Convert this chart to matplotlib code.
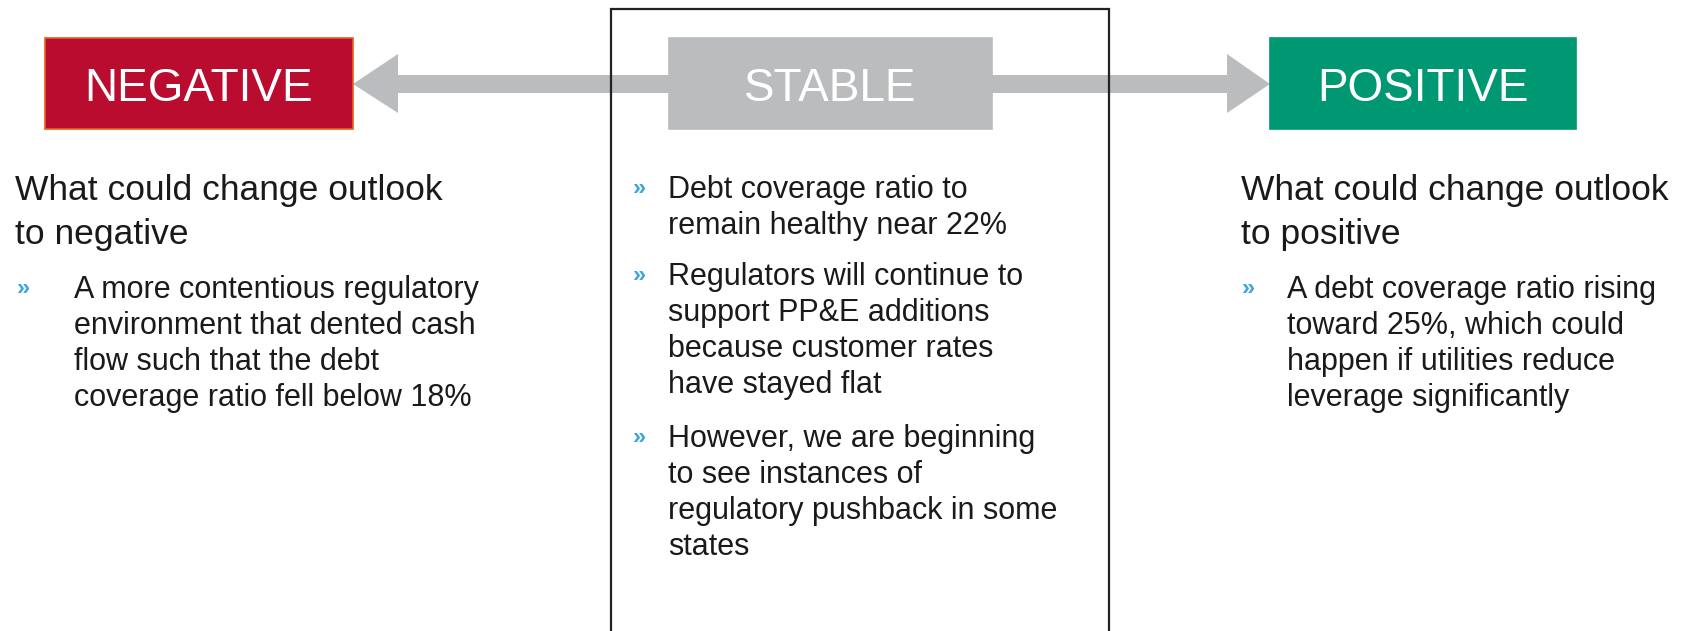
import matplotlib.pyplot as plt
from matplotlib.patches import Rectangle, Polygon

plt.rcParams['font.family'] = ['Liberation Sans', 'DejaVu Sans']

# outlook labels and box colours
labels = ['NEGATIVE', 'STABLE', 'POSITIVE']
box_colors = ['#BA0C2F', '#BBBCBE', '#009872']
edge_colors = ['#E8601C', '#BBBCBE', '#009872']

# headings over the side columns
headings = ['What could change outlook\nto negative',
            'What could change outlook\nto positive']

# bullet points per column
bullets_neg = ['A more contentious regulatory\nenvironment that dented cash\n'
               'flow such that the debt\ncoverage ratio fell below 18%']
bullets_stable = ['Debt coverage ratio to\nremain healthy near 22%',
                  'Regulators will continue to\nsupport PP&E additions\n'
                  'because customer rates\nhave stayed flat',
                  'However, we are beginning\nto see instances of\n'
                  'regulatory pushback in some\nstates']
bullets_pos = ['A debt coverage ratio rising\ntoward 25%, which could\n'
               'happen if utilities reduce\nleverage significantly']

W, H = 1687, 631
fig = plt.figure(figsize=(W / 100, H / 100), dpi=100)
ax = fig.add_axes([0, 0, 1, 1])
ax.set_xlim(0, W)
ax.set_ylim(H, 0)
ax.axis('off')

arrow_col = '#BBBCBE'
bullet_col = '#3DA5E0'
text_col = '#1A1A1A'

# boxes (left, width)
box_x = [(45, 308), (669, 323), (1270, 306)]
box_top, box_h = 38, 91

# arrows first so boxes sit on top
cy = 84
ax.add_patch(Polygon([(353, cy), (398, 54), (398, 75), (669, 75), (669, 93),
                      (398, 93), (398, 113)], closed=True, color=arrow_col,
                     lw=0, zorder=1))
ax.add_patch(Polygon([(1270, cy), (1227, 54), (1227, 75), (992, 75), (992, 93),
                      (1227, 93), (1227, 113)], closed=True, color=arrow_col,
                     lw=0, zorder=1))

for (x0, w), lab, fc, ec in zip(box_x, labels, box_colors, edge_colors):
    ax.add_patch(Rectangle((x0, box_top), w, box_h, facecolor=fc,
                           edgecolor=ec, lw=1.2, zorder=2))
    ax.text(x0 + w / 2, 101, lab, color='white',
            fontsize=33, ha='center', va='baseline', zorder=3)

# frame around the stable column
ax.plot([611, 611, 1109, 1109], [H + 5, 9, 9, H + 5], color='#222222',
        lw=1.6, zorder=4, solid_joinstyle='miter')

# headings
for hx, txt in zip([15, 1241], headings):
    ax.text(hx, 174, txt, fontsize=25.5, color=text_col, ha='left',
            va='top', linespacing=1.43)


def draw_bullets(items, bx, tx, tops):
    for item, y in zip(items, tops):
        ax.text(bx, y + 20, '\u00bb', fontsize=17, color=bullet_col,
                ha='left', va='baseline', fontweight='bold')
        ax.text(tx, y, item, fontsize=22, color=text_col, ha='left',
                va='top', linespacing=1.26)


draw_bullets(bullets_neg, 17, 74, [275])
draw_bullets(bullets_stable, 633, 668, [175, 262, 424])
draw_bullets(bullets_pos, 1242, 1287, [275])

fig.savefig('out.png', dpi=100)
